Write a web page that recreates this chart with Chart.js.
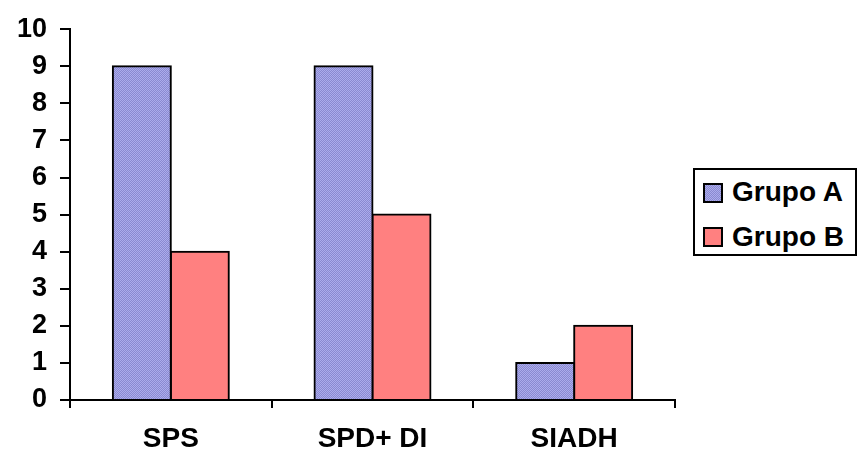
<!DOCTYPE html>
<html>
<head>
<meta charset="utf-8">
<script src="https://cdn.jsdelivr.net/npm/chart.js@4.4.0/dist/chart.umd.min.js"></script>
<style>
  html, body { margin: 0; padding: 0; background: #fff; }
  #wrap { position: relative; width: 859px; height: 457px; }
  #legend {
    position: absolute; left: 693px; top: 168px; width: 160px; height: 84px;
    border: 2px solid #000; background: #fff;
    font: bold 28px "Liberation Sans", Arial, sans-serif; color: #000;
  }
  .sw { position: absolute; left: 8px; width: 20px; height: 20px; border: 2px solid #000; box-sizing: border-box; }
  .txt { position: absolute; left: 37px; height: 32px; line-height: 32px; white-space: nowrap; }
</style>
</head>
<body>
<div id="wrap">
  <canvas id="c" width="859" height="457"></canvas>
  <div id="legend">
    <span class="sw" id="swA" style="top:13px"></span><span class="txt" style="top:6px">Grupo A</span>
    <span class="sw" style="top:57px;background:#FF8080"></span><span class="txt" style="top:51px">Grupo B</span>
  </div>
</div>
<script>
const categories = ["SPS", "SPD+ DI", "SIADH"];
const seriesNames = ["Grupo A", "Grupo B"];
const grupoA = [9, 9, 1];
const grupoB = [4, 5, 2];
const yTicks = [0, 1, 2, 3, 4, 5, 6, 7, 8, 9, 10];

// fine checker dither used for the first series
function checker() {
  const p = document.createElement('canvas');
  p.width = 2; p.height = 2;
  const g = p.getContext('2d');
  g.fillStyle = '#8a8ad0'; g.fillRect(0, 0, 2, 2);
  g.fillStyle = '#acacec'; g.fillRect(0, 0, 1, 1); g.fillRect(1, 1, 1, 1);
  return p;
}
const pat = checker();
const ctx = document.getElementById('c').getContext('2d');
const fillA = ctx.createPattern(pat, 'repeat');
document.getElementById('swA').style.background = 'url(' + pat.toDataURL() + ')';

const family = '"Liberation Sans", Arial, sans-serif';

new Chart(ctx, {
  type: 'bar',
  data: {
    labels: categories,
    datasets: [
      { label: seriesNames[0], data: grupoA, backgroundColor: fillA, borderColor: '#000', borderWidth: 2, inflateAmount: 1 },
      { label: seriesNames[1], data: grupoB, backgroundColor: '#FF8080', borderColor: '#000', borderWidth: 2, inflateAmount: 1 }
    ]
  },
  options: {
    responsive: false,
    animation: false,
    layout: { padding: { left: 0, right: 184, top: 27, bottom: 0 } },
    datasets: { bar: { categoryPercentage: 0.575, barPercentage: 1 } },
    plugins: { legend: { display: false }, tooltip: { enabled: false } },
    scales: {
      x: {
        offset: true,
        grid: { offset: true, drawOnChartArea: false, tickLength: 8, color: '#000', lineWidth: 2 },
        border: { color: '#000', width: 2 },
        ticks: { color: '#000', font: { family: family, size: 28, weight: 'bold' }, padding: 14, maxRotation: 0 },
        afterFit: s => { s.height = 57; }
      },
      y: {
        min: 0, max: 10,
        afterBuildTicks: s => { s.ticks = yTicks.map(v => ({ value: v })); },
        grid: { drawOnChartArea: false, tickLength: 10, color: '#000', lineWidth: 2 },
        border: { color: '#000', width: 2 },
        ticks: { color: '#000', font: { family: family, size: 27, weight: 'bold' }, padding: 13 },
        afterFit: s => { s.width = 70; }
      }
    }
  }
});
</script>
</body>
</html>
